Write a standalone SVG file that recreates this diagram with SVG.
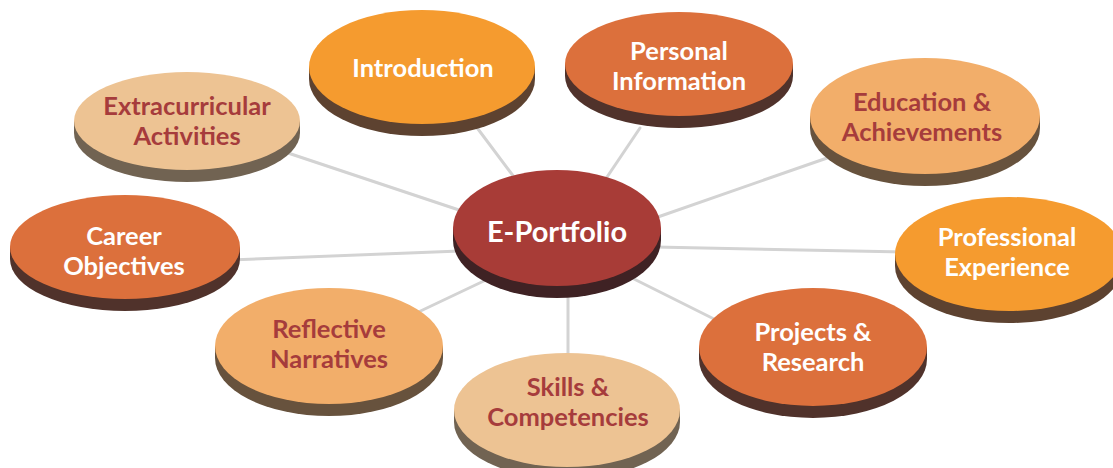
<svg xmlns="http://www.w3.org/2000/svg" width="1113" height="468" viewBox="0 0 1113 468">
<style>
.conn line{stroke:#d3d3d3;stroke-width:3;stroke-linecap:round}
text{font-family:Lato,"Open Sans","Liberation Sans",sans-serif;font-weight:bold;text-anchor:middle;font-size:25.5px}
.w{fill:#ffffff}
.r{fill:#a63c3c}
.c1{fill:#f59b2f}.b1{fill:#5d4230}
.c2{fill:#dc703c}.b2{fill:#50322b}
.c3{fill:#edc393}.b3{fill:#716352}
.c4{fill:#f2ae6a}.b4{fill:#67523d}
.c0{fill:#a83c37}.b0{fill:#3f2224}
</style>
<rect width="1113" height="468" fill="#ffffff"/>
<g id="connectors" class="conn">
<line x1="475" y1="125" x2="520" y2="185"/>
<line x1="640" y1="128" x2="603" y2="183"/>
<line x1="285" y1="152" x2="465" y2="212"/>
<line x1="830" y1="157" x2="655" y2="218"/>
<line x1="230" y1="260" x2="460" y2="251"/>
<line x1="905" y1="252" x2="655" y2="247"/>
<line x1="410" y1="316" x2="488" y2="279"/>
<line x1="568" y1="290" x2="568" y2="360"/>
<line x1="632" y1="278" x2="720" y2="322"/>
</g>
<g id="introduction">
<ellipse class="b1" cx="422" cy="79" rx="113" ry="57"/><rect class="b1" x="309" y="67" width="226" height="12"/>
<ellipse class="c1" cx="422" cy="67" rx="113" ry="57"/>
<text class="w" x="423" y="77">Introduction</text>
</g>
<g id="personal-information">
<ellipse class="b2" cx="679" cy="76" rx="114" ry="52"/><rect class="b2" x="565" y="64" width="228" height="12"/>
<ellipse class="c2" cx="679" cy="64" rx="114" ry="52"/>
<text class="w" x="679" y="60">Personal</text>
<text class="w" x="679" y="90">Information</text>
</g>
<g id="extracurricular-activities">
<ellipse class="b3" cx="187" cy="133" rx="113" ry="49"/><rect class="b3" x="74" y="121" width="226" height="12"/>
<ellipse class="c3" cx="187" cy="121" rx="113" ry="49"/>
<text class="r" x="187" y="115">Extracurricular</text>
<text class="r" x="187" y="145">Activities</text>
</g>
<g id="education-achievements">
<ellipse class="b4" cx="925" cy="128" rx="115" ry="58"/><rect class="b4" x="810" y="116" width="230" height="12"/>
<ellipse class="c4" cx="925" cy="116" rx="115" ry="58"/>
<text class="r" x="922" y="111">Education &amp;</text>
<text class="r" x="922" y="141">Achievements</text>
</g>
<g id="career-objectives">
<ellipse class="b2" cx="125" cy="259" rx="115" ry="52"/><rect class="b2" x="10" y="247" width="230" height="12"/>
<ellipse class="c2" cx="125" cy="247" rx="115" ry="52"/>
<text class="w" x="124" y="245">Career</text>
<text class="w" x="124" y="275">Objectives</text>
</g>
<g id="professional-experience">
<ellipse class="b1" cx="1009" cy="266" rx="114" ry="57"/><rect class="b1" x="895" y="254" width="228" height="12"/>
<ellipse class="c1" cx="1009" cy="254" rx="114" ry="57"/>
<text class="w" x="1007" y="246">Professional</text>
<text class="w" x="1007" y="276">Experience</text>
</g>
<g id="reflective-narratives">
<ellipse class="b4" cx="329" cy="358" rx="114" ry="58"/><rect class="b4" x="215" y="346" width="228" height="12"/>
<ellipse class="c4" cx="329" cy="346" rx="114" ry="58"/>
<text class="r" x="329" y="338">Reflective</text>
<text class="r" x="329" y="368">Narratives</text>
</g>
<g id="skills-competencies">
<ellipse class="b3" cx="567" cy="422" rx="113" ry="57"/><rect class="b3" x="454" y="410" width="226" height="12"/>
<ellipse class="c3" cx="567" cy="410" rx="113" ry="57"/>
<text class="r" x="568" y="396">Skills &amp;</text>
<text class="r" x="568" y="426">Competencies</text>
</g>
<g id="projects-research">
<ellipse class="b2" cx="813" cy="359" rx="114" ry="59"/><rect class="b2" x="699" y="347" width="228" height="12"/>
<ellipse class="c2" cx="813" cy="347" rx="114" ry="59"/>
<text class="w" x="813" y="341">Projects &amp;</text>
<text class="w" x="813" y="371">Research</text>
</g>
<g id="e-portfolio">
<ellipse class="b0" cx="557" cy="240" rx="104" ry="58"/><rect class="b0" x="453" y="228" width="208" height="12"/>
<ellipse class="c0" cx="557" cy="228" rx="104" ry="58"/>
<text class="w" x="557" y="242" style="font-size:29px">E-Portfolio</text>
</g>
</svg>
